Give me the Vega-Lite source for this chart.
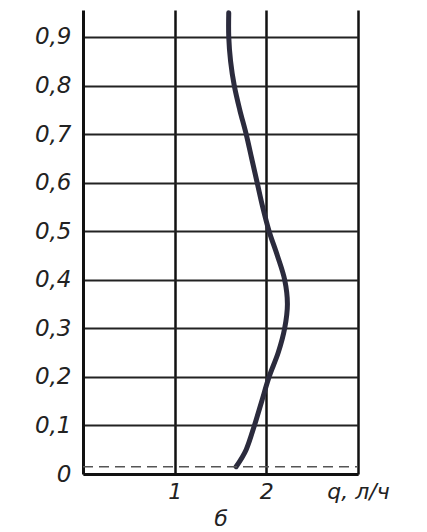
{
  "$schema": "https://vega.github.io/schema/vega-lite/v6.json",
  "width": 275,
  "height": 464,
  "autosize": "none",
  "padding": {"left": 83, "top": 10, "right": 69, "bottom": 58},
  "background": "white",
  "config": {"view": {"stroke": null}},
  "datasets": {
    "curve": [
      {"q": 1.67, "h": 0.015},
      {"q": 1.78, "h": 0.05},
      {"q": 1.87, "h": 0.1},
      {"q": 1.95, "h": 0.15},
      {"q": 2.03, "h": 0.2},
      {"q": 2.13, "h": 0.25},
      {"q": 2.2, "h": 0.3},
      {"q": 2.23, "h": 0.35},
      {"q": 2.2, "h": 0.4},
      {"q": 2.12, "h": 0.45},
      {"q": 2.03, "h": 0.5},
      {"q": 1.96, "h": 0.55},
      {"q": 1.9, "h": 0.6},
      {"q": 1.84, "h": 0.65},
      {"q": 1.78, "h": 0.7},
      {"q": 1.71, "h": 0.75},
      {"q": 1.65, "h": 0.8},
      {"q": 1.61, "h": 0.85},
      {"q": 1.59, "h": 0.9},
      {"q": 1.59, "h": 0.95}
    ],
    "dash": [{"h": 0.015, "q1": 0, "q2": 3}]
  },
  "layer": [
    {
      "data": {"name": "curve"},
      "mark": {"type": "line", "interpolate": "cardinal", "color": "#2b2b3d", "strokeWidth": 5, "strokeCap": "round"},
      "encoding": {
        "x": {
          "field": "q", "type": "quantitative",
          "scale": {"domain": [0, 3], "nice": false, "zero": false},
          "axis": {
            "values": [1, 2, 3],
            "labelExpr": "datum.value == 3 ? 'q, л/ч' : format(datum.value, 'd')",
            "title": "б",
            "titleFont": "DejaVu Sans", "titleFontStyle": "italic", "titleFontWeight": "normal",
            "titleFontSize": 22, "titleColor": "#222", "titlePadding": 6,
            "labelFont": "DejaVu Sans", "labelFontStyle": "italic", "labelFontSize": 22,
            "labelColor": "#222", "labelPadding": 7, "labelFlush": false, "labelOverlap": false,
            "ticks": false,
            "domain": true, "domainColor": "#111", "domainWidth": 3,
            "grid": true, "gridColor": "#111", "gridWidth": 2.5, "gridOpacity": 1
          }
        },
        "y": {
          "field": "h", "type": "quantitative",
          "scale": {"domain": [0, 0.9555], "nice": false, "zero": false},
          "axis": {
            "values": [0, 0.1, 0.2, 0.3, 0.4, 0.5, 0.6, 0.7, 0.8, 0.9],
            "labelExpr": "datum.value == 0 ? '0' : replace(format(datum.value, '.1f'), '.', ',')",
            "title": null,
            "labelFont": "DejaVu Sans", "labelFontStyle": "italic", "labelFontSize": 23,
            "labelColor": "#222", "labelPadding": 12, "labelOverlap": false,
            "ticks": false,
            "domain": true, "domainColor": "#111", "domainWidth": 3,
            "grid": true, "gridColor": "#222", "gridWidth": 2, "gridOpacity": 1
          }
        },
        "order": {"field": "h", "type": "quantitative"}
      }
    },
    {
      "data": {"name": "dash"},
      "mark": {"type": "rule", "color": "#555", "strokeWidth": 1.5, "strokeDash": [10, 6]},
      "encoding": {
        "x": {"field": "q1", "type": "quantitative"},
        "x2": {"field": "q2"},
        "y": {"field": "h", "type": "quantitative"}
      }
    }
  ]
}
